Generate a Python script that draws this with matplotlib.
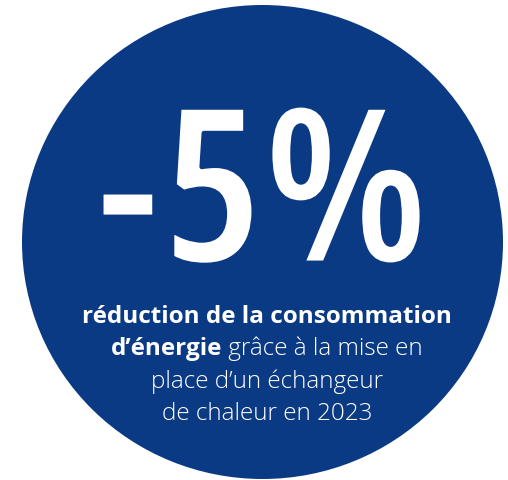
import matplotlib
matplotlib.use("Agg")
import matplotlib.pyplot as plt
import matplotlib.patheffects as pe
from matplotlib.patches import Ellipse

# --- content -----------------------------------------------------------
big_value = "-5%"
bold_lines = ["réduction de la consommation", "d’énergie"]
light_lines = [" grâce à la mise en", "place d’un échangeur", "de chaleur en 2023"]
circle_color = "#0B3A84"

W, H = 508, 480
fig = plt.figure(figsize=(W / 100, H / 100), dpi=100)
ax = fig.add_axes([0, 0, 1, 1])
ax.set_xlim(0, W)
ax.set_ylim(H, 0)
ax.axis("off")

# pixel-space coordinates (data units == pixels)
ax.add_patch(Ellipse((262.5, 242), 481, 474, color=circle_color, lw=0))

# condensed bold, thinned a little with a stroke in the background colour
ax.text(261, 263, big_value, ha="center", va="baseline", color="white",
        family="Open Sans Condensed", weight="bold", fontsize=157,
        path_effects=[pe.Normal(), pe.Stroke(linewidth=3.5, foreground=circle_color)])

fs = 17.5
cx = 267
ax.text(cx, 323, bold_lines[0], ha="center", va="baseline", color="white",
        family="Open Sans", weight="bold", fontsize=fs)

# mixed bold / light line, centred as a whole
renderer = fig.canvas.get_renderer()
t_b = ax.text(0, 355, bold_lines[1], ha="left", va="baseline", color="white",
              family="Open Sans", weight="bold", fontsize=fs)
t_l = ax.text(0, 355, light_lines[0], ha="left", va="baseline", color="white",
              family="Open Sans", weight="light", stretch="normal", fontsize=fs)
wb = t_b.get_window_extent(renderer).width
wl = t_l.get_window_extent(renderer).width
x0 = cx - (wb + wl) / 2
t_b.set_x(x0)
t_l.set_x(x0 + wb)

for y, s in zip([388, 420], light_lines[1:]):
    ax.text(cx, y, s, ha="center", va="baseline", color="white",
            family="Open Sans", weight="light", stretch="normal", fontsize=fs)

fig.savefig("out.png", dpi=100)
